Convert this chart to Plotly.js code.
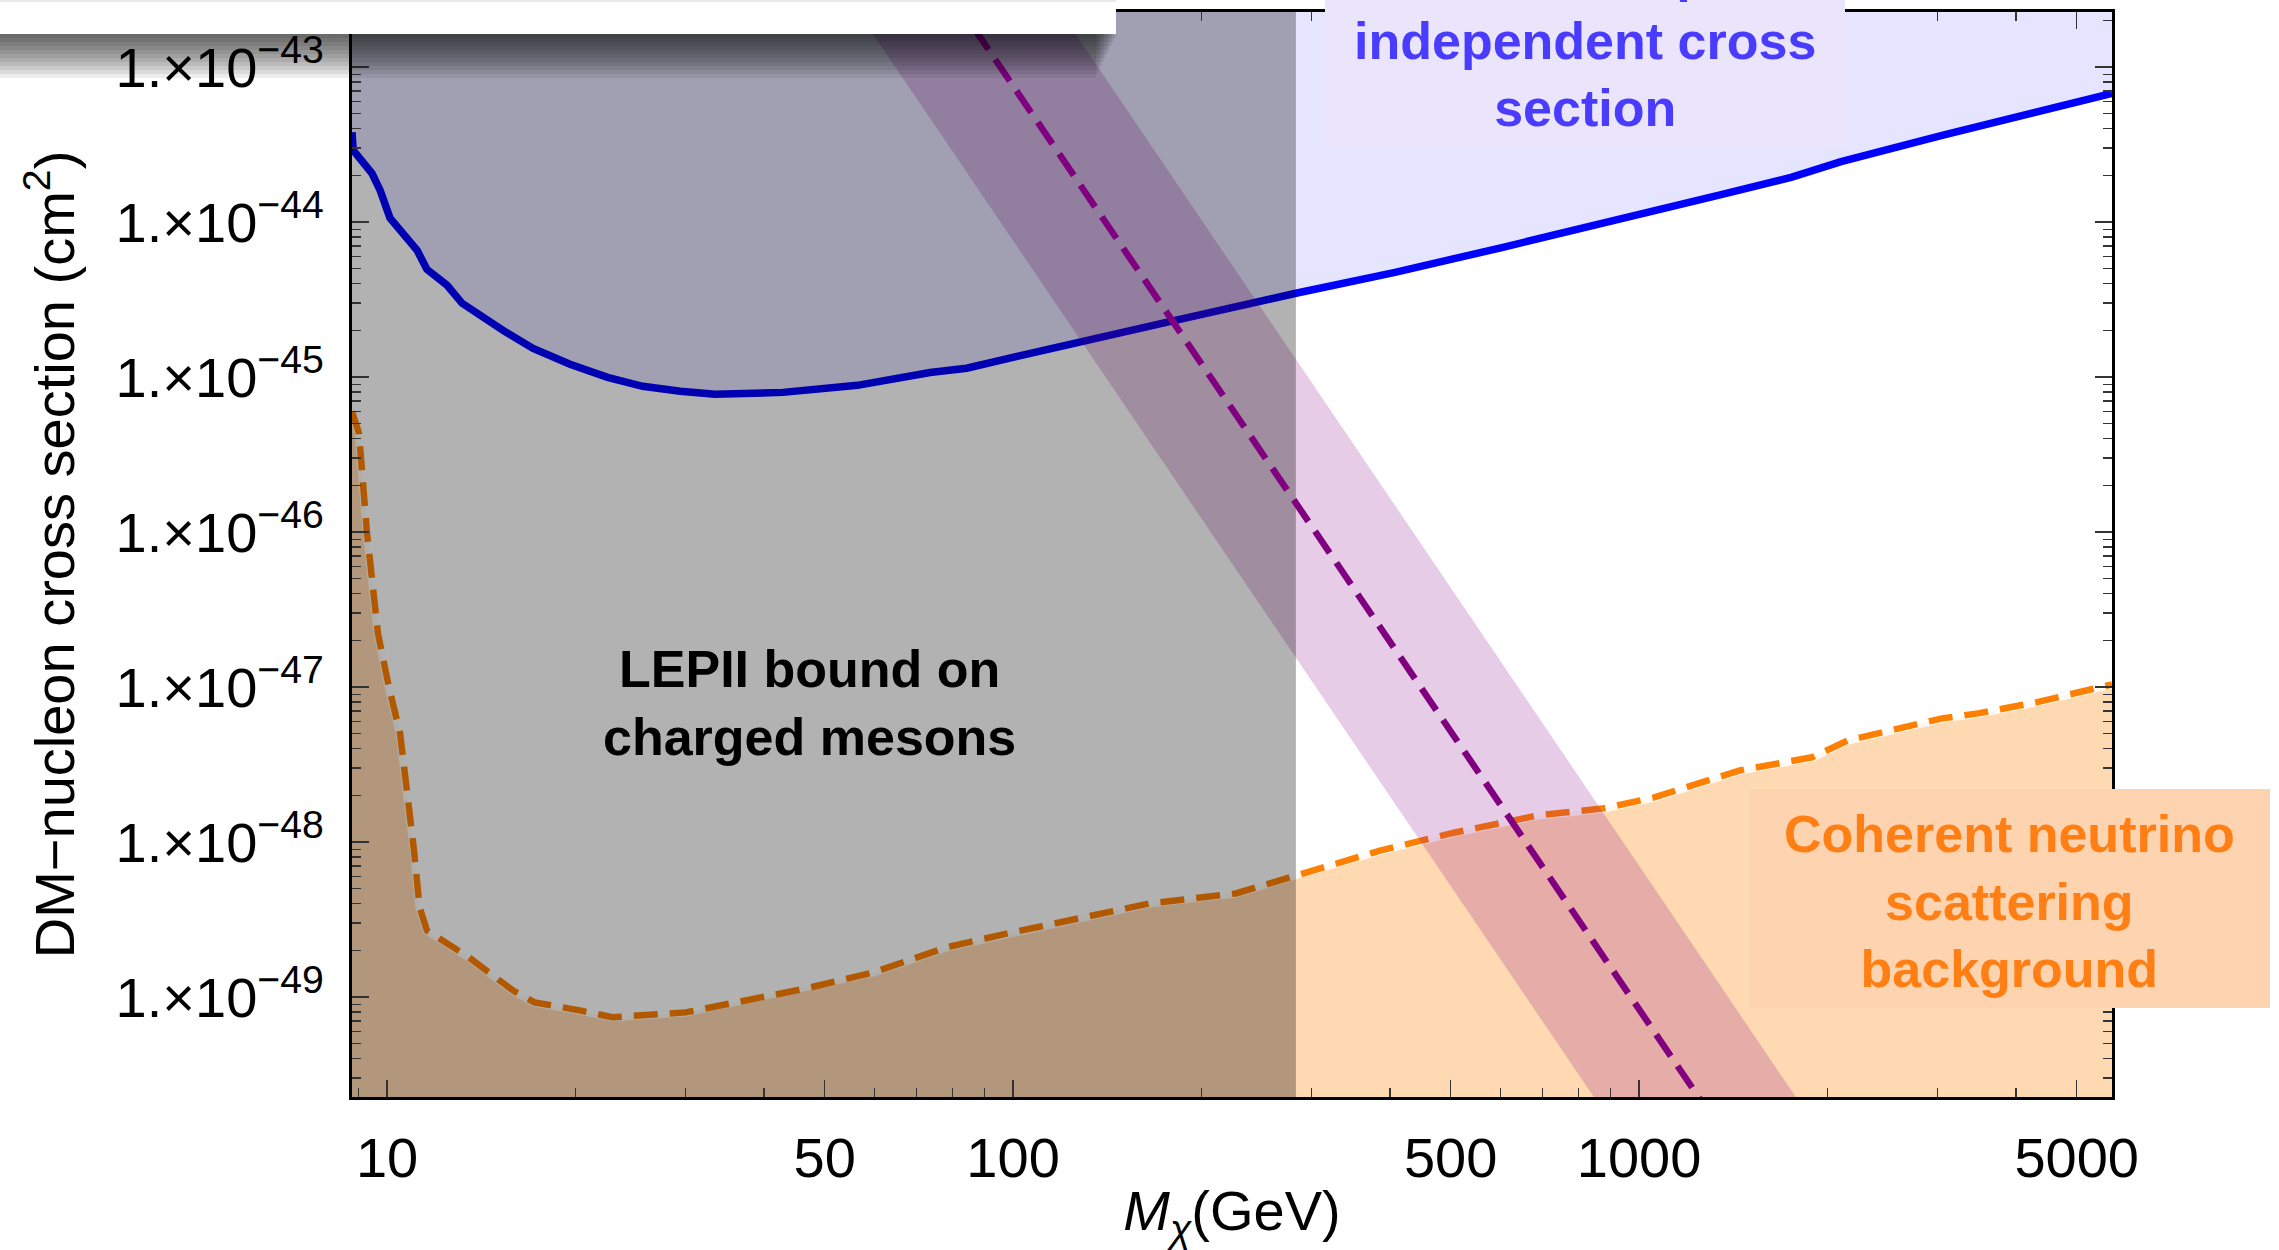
<!DOCTYPE html>
<html>
<head>
<meta charset="utf-8">
<script src="https://cdn.plot.ly/plotly-3.0.1.min.js"></script>
<style>
  html, body { margin: 0; padding: 0; background: #ffffff; }
  #chart { width: 2279px; height: 1250px; }
</style>
</head>
<body>
<div id="chart"></div>
<script>
// ---------------- data ----------------
// Direct-detection upper limit (blue solid line)
const massBlue = [8.79, 8.83, 9.46, 9.75, 10.11, 10.76, 11.17, 11.58, 12.47, 13.18, 14.08, 15.32,
  17.11, 19.6, 22.5, 25.6, 29.4, 33.4, 42.9, 52.9, 56.4, 73.7, 84.3, 101.5, 132.7, 173.6, 283,
  407.5, 606, 790, 1030, 1342, 1749, 2102, 3048, 4535, 5694];
const sigmaBlue = [3.8e-44, 2.9e-44, 2.06e-44, 1.6e-44, 1.06e-44, 7.96e-45, 6.56e-45, 4.95e-45,
  3.91e-45, 2.99e-45, 2.5e-45, 2.0e-45, 1.53e-45, 1.21e-45, 9.95e-46, 8.71e-46, 8.09e-46, 7.73e-46,
  7.96e-46, 8.46e-46, 8.84e-46, 1.07e-45, 1.14e-45, 1.36e-45, 1.76e-45, 2.23e-45, 3.47e-45,
  4.73e-45, 6.87e-45, 8.83e-45, 1.14e-44, 1.49e-44, 1.94e-44, 2.45e-44, 3.62e-44, 5.42e-44, 6.76e-44];

// Coherent neutrino scattering floor (orange dashed line)
const massNu = [8.79, 9.02, 9.29, 9.67, 10.07, 10.49, 11.04, 11.27, 11.58, 13.52, 15.9, 17.2, 20.3,
  22.9, 30.0, 35.7, 46.9, 59.8, 78.2, 99.6, 127, 165.5, 227, 281, 385.5, 502, 692, 879, 1057,
  1449, 1889, 2157, 3048, 3479, 4307, 5694];
const sigmaNu = [6.0e-46, 4.33e-46, 9.8e-47, 2.22e-47, 9.96e-48, 5.03e-48, 8.85e-49, 3.8e-49,
  2.69e-49, 1.8e-49, 1.1e-49, 9.24e-50, 8.2e-50, 7.4e-50, 7.96e-50, 9.24e-50, 1.14e-49, 1.44e-49,
  2.09e-49, 2.61e-49, 3.21e-49, 4.02e-49, 4.66e-49, 6.08e-49, 8.8e-49, 1.14e-48, 1.49e-48,
  1.65e-48, 1.94e-48, 2.9e-48, 3.52e-48, 4.53e-48, 6.28e-48, 6.76e-48, 7.96e-48, 1.04e-47];

// Predicted cross section (purple dashed line) and its band
const massPred = [50, 100, 200, 500, 1000, 2000];
const sigmaPred = [4.7e-42, 7.6e-44, 1.22e-45, 5.2e-48, 8.4e-50, 1.34e-51];
const sigmaPredLow = [4.7e-43, 7.6e-45, 1.22e-46, 5.2e-49, 8.4e-51, 1.34e-52];
const sigmaPredHigh = [4.0e-41, 6.4e-43, 1.03e-44, 4.4e-47, 7.0e-49, 1.13e-50];

// LEPII bound on charged mesons (GeV)
const lepBound = 283;

// axis ticks
const xTickVals = [10, 50, 100, 500, 1000, 5000];
const xTickText = ['10', '50', '100', '500', '1000', '5000'];
const yExponents = [-49, -48, -47, -46, -45, -44, -43];

// ---------------- axis helpers ----------------
const xRange = [Math.log10(8.79), Math.log10(5694)];
const yRange = [-49.645, -42.645];
const xLeft = Math.pow(10, xRange[0] - 0.2), xRight = Math.pow(10, xRange[1] + 0.2);
const yFloor = Math.pow(10, yRange[0] - 2), yCeil = Math.pow(10, yRange[1] + 2);

const yTickVals = yExponents.map(e => Math.pow(10, e));
const yTickText = yExponents.map(e => '1.\u00d710<sup>\u2212' + Math.abs(e) + '</sup>');
const yMinor = [];
for (let e = -50; e <= -43; e++) for (let d = 2; d <= 9; d++) yMinor.push(d * Math.pow(10, e));
const xMinor = [];
for (let e = 0; e <= 3; e++) for (let d = 2; d <= 9; d++) {
  const v = d * Math.pow(10, e);
  if (!xTickVals.includes(v)) xMinor.push(v);
}
xMinor.push(9);

const FONT = 'Liberation Sans, Arial, Helvetica, sans-serif';
const noHover = { hoverinfo: 'skip', showlegend: false };

const traces = [
  // blue excluded region (above limit)
  Object.assign({ x: [xLeft, xRight], y: [yCeil, yCeil], mode: 'lines', line: { width: 0 } }, noHover),
  Object.assign({ x: massBlue, y: sigmaBlue, mode: 'lines', fill: 'tonexty',
    fillcolor: 'rgba(0,0,255,0.1)', line: { color: 'rgb(0,0,255)', width: 7.5 } }, noHover),
  // neutrino floor region
  Object.assign({ x: [xLeft, xRight], y: [yFloor, yFloor], mode: 'lines', line: { width: 0 } }, noHover),
  Object.assign({ x: massNu, y: sigmaNu, mode: 'lines', fill: 'tonexty',
    fillcolor: 'rgba(255,128,0,0.3)', line: { color: 'rgba(255,255,255,0.85)', width: 8.5 } }, noHover),
  Object.assign({ x: massNu, y: sigmaNu, mode: 'lines',
    line: { color: 'rgb(255,128,0)', width: 6.5, dash: '24px,12px' } }, noHover),
  // purple band
  Object.assign({ x: massPred, y: sigmaPredLow, mode: 'lines', line: { width: 0 } }, noHover),
  Object.assign({ x: massPred, y: sigmaPredHigh, mode: 'lines', fill: 'tonexty',
    fillcolor: 'rgba(128,0,128,0.2)', line: { width: 0 } }, noHover),
  // LEPII gray region
  Object.assign({ x: [xLeft, lepBound, lepBound, xLeft], y: [yFloor, yFloor, yCeil, yCeil],
    mode: 'lines', fill: 'toself', fillcolor: 'rgba(0,0,0,0.3)', line: { width: 0 } }, noHover),
  // purple dashed prediction
  Object.assign({ x: massPred, y: sigmaPred, mode: 'lines',
    line: { color: 'rgb(128,0,128)', width: 6.5, dash: '26px,12px' } }, noHover)
];

// layout geometry (pixels)
const W = 2279, H = 1250;
const M = { l: 352, r: 167, t: 12, b: 153 };
const PW = W - M.l - M.r, PH = H - M.t - M.b;
const px = x => (x - M.l) / PW;
const py = y => (H - M.b - y) / PH;

const shapes = [];
// cut-off white box at top-left with blurred drop shadow
for (let k = 1; k <= 11; k++) {
  shapes.push({ type: 'rect', xref: 'paper', yref: 'paper', layer: 'above',
    x0: px(0), x1: px(1118 - 2 * k), y0: py(34 + 4 * k), y1: py(34),
    fillcolor: 'rgba(0,0,0,0.075)', line: { width: 0 } });
}
shapes.push({ type: 'rect', xref: 'paper', yref: 'paper', layer: 'above',
  x0: px(0), x1: px(1116), y0: py(34), y1: py(-5), fillcolor: '#ffffff', line: { width: 0 } });
shapes.push({ type: 'rect', xref: 'paper', yref: 'paper', layer: 'above',
  x0: px(0), x1: px(1116), y0: py(2), y1: py(-5), fillcolor: '#e9e9e9', line: { width: 0 } });
// label boxes
shapes.push({ type: 'rect', xref: 'paper', yref: 'paper', layer: 'above',
  x0: px(1325), x1: px(1845), y0: py(148), y1: py(-5), fillcolor: '#eae5fb', line: { width: 0 } });
shapes.push({ type: 'rect', xref: 'paper', yref: 'paper', layer: 'above',
  x0: px(1749), x1: px(2270), y0: py(1008), y1: py(789), fillcolor: '#fdd3b0', line: { width: 0 } });

const annotations = [
  { xref: 'paper', yref: 'paper', x: px(1585), y: py(41), xanchor: 'center', yanchor: 'middle',
    showarrow: false, text: '<b>LUX 2013 spin-<br>independent cross<br>section</b>',
    font: { family: FONT, size: 52, color: '#4a3cff' } },
  { xref: 'paper', yref: 'paper', x: px(809), y: py(703), xanchor: 'center', yanchor: 'middle',
    showarrow: false, text: '<b>LEPII bound on<br>charged mesons</b>',
    font: { family: FONT, size: 52, color: '#000000' } },
  { xref: 'paper', yref: 'paper', x: px(2009), y: py(901), xanchor: 'center', yanchor: 'middle',
    showarrow: false, text: '<b>Coherent neutrino<br>scattering<br>background</b>',
    font: { family: FONT, size: 52, color: '#ff7f14' } }
];

const axisCommon = {
  type: 'log', showgrid: false, zeroline: false,
  showline: true, linecolor: '#000000', linewidth: 3, mirror: 'allticks',
  ticks: 'inside', ticklen: 17, tickwidth: 1.5, tickcolor: '#333333',
  tickfont: { family: FONT, size: 56, color: '#000000' },
  tickmode: 'array'
};

const layout = {
  width: W, height: H, margin: M,
  paper_bgcolor: '#ffffff', plot_bgcolor: '#ffffff',
  showlegend: false,
  xaxis: Object.assign({}, axisCommon, {
    range: xRange, tickvals: xTickVals, ticktext: xTickText, ticklabelstandoff: 10,
    minor: { tickmode: 'array', tickvals: xMinor, ticks: 'inside', ticklen: 9, tickwidth: 1.2, tickcolor: '#333333', showgrid: false },
    title: { text: '<i>M</i><sub><i>\u03c7</i></sub>(GeV)', font: { family: FONT, size: 56, color: '#000000' }, standoff: 22 }
  }),
  yaxis: Object.assign({}, axisCommon, {
    range: yRange, tickvals: yTickVals, ticktext: yTickText, ticklabelstandoff: 14,
    minor: { tickmode: 'array', tickvals: yMinor, ticks: 'inside', ticklen: 9, tickwidth: 1.2, tickcolor: '#333333', showgrid: false },
    title: { text: 'DM\u2212nucleon cross section (cm<sup>2</sup>)', font: { family: FONT, size: 56, color: '#000000' }, standoff: 24 }
  }),
  shapes: shapes,
  annotations: annotations
};

Plotly.newPlot('chart', traces, layout, { staticPlot: true, displayModeBar: false });
</script>
</body>
</html>
